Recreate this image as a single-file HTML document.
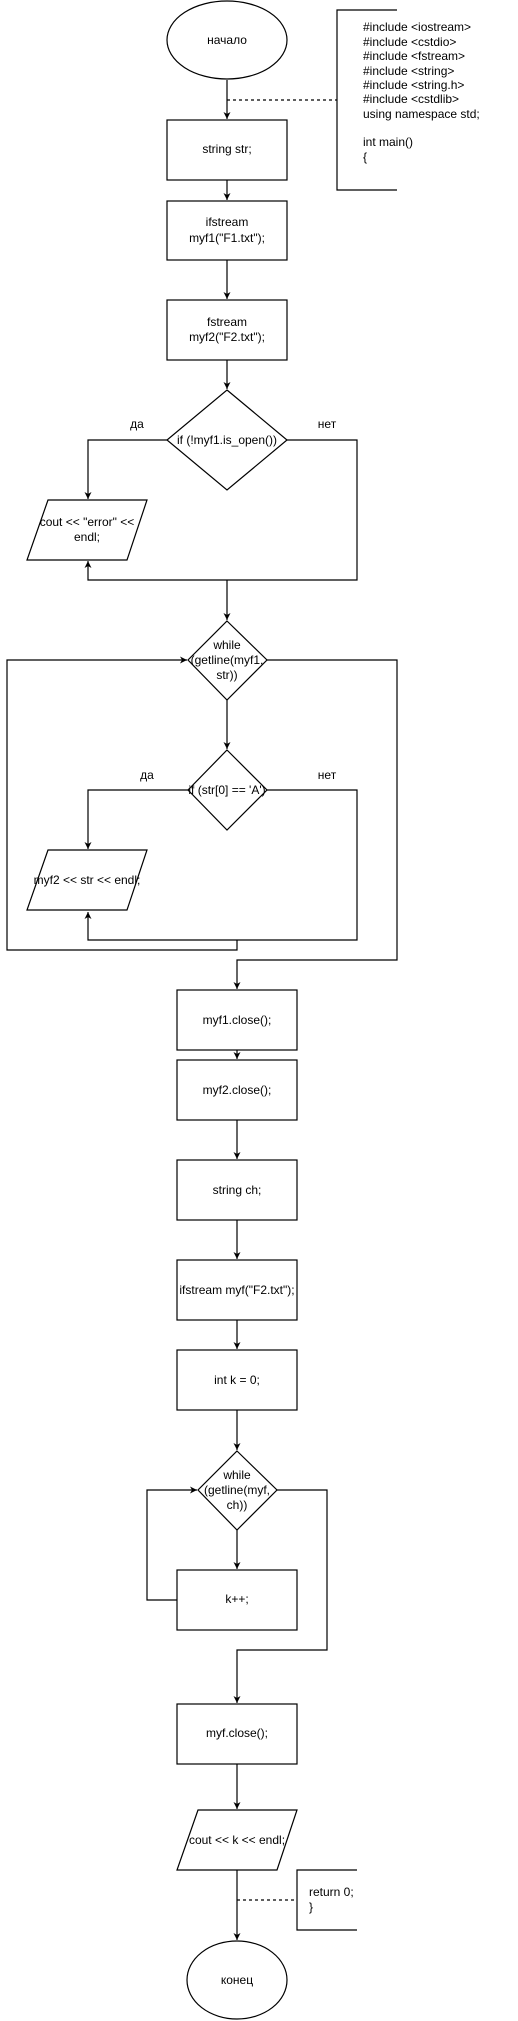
<!DOCTYPE html>
<html><head><meta charset="utf-8"><style>
html,body{margin:0;padding:0;background:#fff;}
svg{display:block;}
text{font-family:"Liberation Sans",sans-serif;font-size:12px;fill:#000;text-anchor:middle;dominant-baseline:central;}
.l{text-anchor:start;}
</style></head><body>
<svg width="518" height="2021" viewBox="0 0 518 2021" xmlns="http://www.w3.org/2000/svg">
<defs>
<marker id="a" markerWidth="8" markerHeight="8" refX="7" refY="4" orient="auto" markerUnits="userSpaceOnUse">
<path d="M0,0.5 L7,4 L0,7.5 L2,4 Z" fill="#000"/>
</marker>
</defs>
<g fill="none" stroke="#000" stroke-width="1.2">
<ellipse cx="227" cy="40" rx="60" ry="39"/>
<line x1="227" y1="80" x2="227" y2="119" marker-end="url(#a)"/>
<line x1="227" y1="100" x2="337" y2="100" stroke-dasharray="3,3"/>
<path d="M397,10 H337 V190 H397"/>
<rect x="167" y="120" width="120" height="60"/>
<line x1="227" y1="180" x2="227" y2="200" marker-end="url(#a)"/>
<rect x="167" y="201" width="120" height="59"/>
<line x1="227" y1="260" x2="227" y2="299" marker-end="url(#a)"/>
<rect x="167" y="300" width="120" height="60"/>
<line x1="227" y1="360" x2="227" y2="389" marker-end="url(#a)"/>
<path d="M227,390 L287,440 L227,490 L167,440 Z"/>
<path d="M167,440 H88 V499" marker-end="url(#a)"/>
<path d="M48,500 L147,500 L127,560 L27,560 Z"/>
<path d="M287,440 H357 V580 H88 V561" marker-end="url(#a)"/>
<line x1="227" y1="580" x2="227" y2="620" marker-end="url(#a)"/>
<path d="M227,621 L267,660 L227,700 L188,660 Z"/>
<path d="M237,940 V950 H7 V660 H187" marker-end="url(#a)"/>
<path d="M267,660 H397 V960 H237 V989" marker-end="url(#a)"/>
<line x1="227" y1="700" x2="227" y2="749" marker-end="url(#a)"/>
<path d="M227,750 L267,790 L227,830 L188,790 Z"/>
<path d="M188,790 H88 V849" marker-end="url(#a)"/>
<path d="M48,850 L147,850 L127,910 L27,910 Z"/>
<path d="M267,790 H357 V940 H88 V912" marker-end="url(#a)"/>
<rect x="177" y="990" width="120" height="60"/>
<line x1="237" y1="1050" x2="237" y2="1059" marker-end="url(#a)"/>
<rect x="177" y="1060" width="120" height="60"/>
<line x1="237" y1="1120" x2="237" y2="1159" marker-end="url(#a)"/>
<rect x="177" y="1160" width="120" height="60"/>
<line x1="237" y1="1220" x2="237" y2="1259" marker-end="url(#a)"/>
<rect x="177" y="1260" width="120" height="60"/>
<line x1="237" y1="1320" x2="237" y2="1349" marker-end="url(#a)"/>
<rect x="177" y="1350" width="120" height="60"/>
<line x1="237" y1="1410" x2="237" y2="1450" marker-end="url(#a)"/>
<path d="M237,1451 L277,1490 L237,1530 L198,1490 Z"/>
<line x1="237" y1="1530" x2="237" y2="1569" marker-end="url(#a)"/>
<rect x="177" y="1570" width="120" height="60"/>
<path d="M177,1600 H147 V1490 H197" marker-end="url(#a)"/>
<path d="M277,1490 H327 V1650 H237 V1703" marker-end="url(#a)"/>
<rect x="177" y="1704" width="120" height="60"/>
<line x1="237" y1="1764" x2="237" y2="1809" marker-end="url(#a)"/>
<path d="M198,1810 L297,1810 L277,1870 L177,1870 Z"/>
<line x1="237" y1="1870" x2="237" y2="1940" marker-end="url(#a)"/>
<line x1="237" y1="1900" x2="297" y2="1900" stroke-dasharray="3,3"/>
<path d="M357,1870 H297 V1930 H357"/>
<ellipse cx="237" cy="1980" rx="50" ry="39"/>
</g>
<g>
<text x="227" y="40">начало</text>
<text class="l" x="363" y="27">#include &lt;iostream&gt;</text>
<text class="l" x="363" y="42">#include &lt;cstdio&gt;</text>
<text class="l" x="363" y="56">#include &lt;fstream&gt;</text>
<text class="l" x="363" y="71">#include &lt;string&gt;</text>
<text class="l" x="363" y="85">#include &lt;string.h&gt;</text>
<text class="l" x="363" y="99">#include &lt;cstdlib&gt;</text>
<text class="l" x="363" y="114">using namespace std;</text>
<text class="l" x="363" y="142">int main()</text>
<text class="l" x="363" y="157">{</text>
<text x="227" y="149">string str;</text>
<text x="227" y="222">ifstream</text>
<text x="227" y="238">myf1("F1.txt");</text>
<text x="227" y="322">fstream</text>
<text x="227" y="337">myf2("F2.txt");</text>
<text x="227" y="440">if (!myf1.is_open())</text>
<text x="137" y="424">да</text>
<text x="327" y="424">нет</text>
<text x="87" y="522">cout &lt;&lt; "error" &lt;&lt;</text>
<text x="87" y="537">endl;</text>
<text x="227" y="645">while</text>
<text x="227" y="660">(getline(myf1,</text>
<text x="227" y="675">str))</text>
<text x="227" y="790">if (str[0] == 'A')</text>
<text x="147" y="775">да</text>
<text x="327" y="775">нет</text>
<text x="87" y="880">myf2 &lt;&lt; str &lt;&lt; endl;</text>
<text x="237" y="1020">myf1.close();</text>
<text x="237" y="1090">myf2.close();</text>
<text x="237" y="1190">string ch;</text>
<text x="237" y="1290">ifstream myf("F2.txt");</text>
<text x="237" y="1380">int k = 0;</text>
<text x="237" y="1475">while</text>
<text x="237" y="1490">(getline(myf,</text>
<text x="237" y="1505">ch))</text>
<text x="237" y="1599">k++;</text>
<text x="237" y="1733">myf.close();</text>
<text x="237" y="1840">cout &lt;&lt; k &lt;&lt; endl;</text>
<text class="l" x="309" y="1892">return 0;</text>
<text class="l" x="309" y="1907">}</text>
<text x="237" y="1980">конец</text>
</g>
</svg>
</body></html>
